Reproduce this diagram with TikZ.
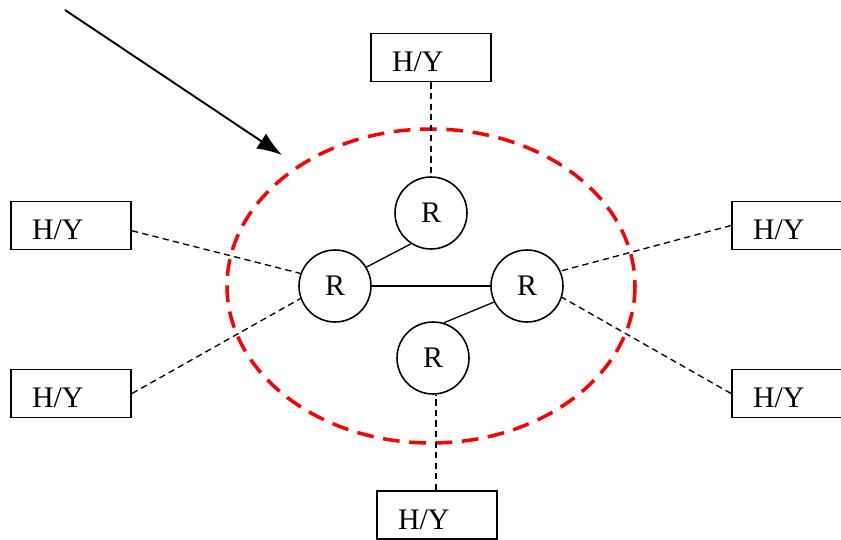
\documentclass[tikz,border=0pt]{standalone}
\usepackage{fontspec}
\setmainfont{Liberation Serif}
\usetikzlibrary{arrows.meta}

\tikzset{
    hybox/.style={draw, line width=1.1pt, rectangle, minimum width=2.4cm, minimum height=0.96cm,
        text width=1.56cm, align=left, inner xsep=0.42cm, inner ysep=0pt,
        text height=0.56cm, text depth=0pt, font=\fontsize{17}{19}\selectfont},
    router/.style={draw, line width=0.9pt, circle, minimum size=1.44cm, inner sep=0pt, font=\fontsize{17}{19}\selectfont},
    link/.style={line width=0.75pt},
    hylink/.style={line width=0.75pt, dash pattern=on 3.6pt off 2.4pt}
}

\begin{document}
\begin{tikzpicture}[x=0.02cm, y=-0.02cm]
    \useasboundingbox (0,0) rectangle (841,540);

    % Dashed red region
    \draw[red, line width=2pt, dash pattern=on 9.5pt off 5.5pt] (431,286) ellipse [x radius=204, y radius=157];

    % Routers
    \node[router] (R1) at (335,286) {R};
    \node[router] (R2) at (527,286) {R};
    \node[router] (R3) at (431,213) {R};
    \node[router] (R4) at (433,358) {R};

    % H/Y boxes
    \node[hybox] (H1) at (431,57.5) {H/Y};
    \node[hybox] (H2) at (71,225.5) {H/Y};
    \node[hybox] (H3) at (71,393.5) {H/Y};
    \node[hybox] (H4) at (792,225.5) {H/Y};
    \node[hybox] (H5) at (792,393.5) {H/Y};
    \node[hybox] (H6) at (437,515) {H/Y};

    % Links between routers
    \draw[link] (R1) -- (R2);
    \draw[link] (R1.31) -- (R3.237);
    \draw[link] (R2.206) -- (R4.73);

    % Links to the H/Y boxes
    \draw[hylink] (H1.south) -- (R3);
    \draw[hylink] ([yshift=-3pt]H2.east) -- (R1.160);
    \draw[hylink] (H3.east) -- (R1.200);
    \draw[hylink] (H4.west) -- (R2.24);
    \draw[hylink] (H5.west) -- (R2.342);
    \draw[hylink] ([xshift=-0.02cm]H6.north) -- ([xshift=-0.02cm]H6.north |- R4.south);

    % Pointer
    \coordinate (A0) at (65,10);
    \coordinate (A1) at (282,155);
    \draw[line width=1.1pt, -{Latex[length=5mm,width=3.6mm]}] (A0) -- (A1);

\end{tikzpicture}
\end{document}
